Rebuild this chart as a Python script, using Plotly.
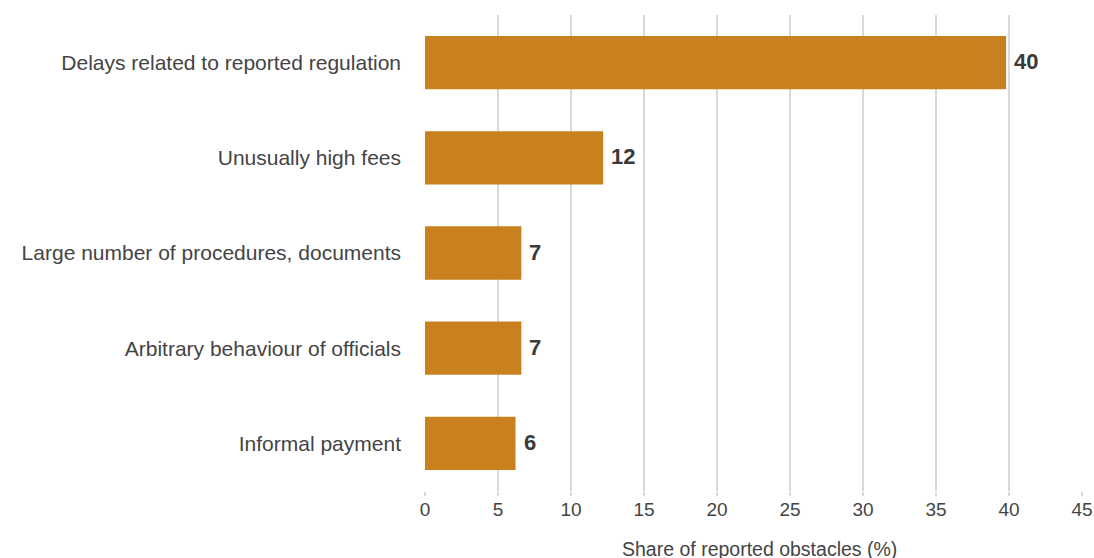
import plotly.graph_objects as go

categories = [
    "Delays related to reported regulation",
    "Unusually high fees",
    "Large number of procedures, documents",
    "Arbitrary behaviour of officials",
    "Informal payment",
]
values = [39.8, 12.2, 6.6, 6.6, 6.2]
value_labels = ["40", "12", "7", "7", "6"]
x_ticks = [0, 5, 10, 15, 20, 25, 30, 35, 40, 45]
x_title = "Share of reported obstacles (%)"

bar_color = "#C8811E"
text_color = "#444444"
grid_color = "#d9d9d9"
font_family = "Liberation Sans, Arial, sans-serif"

fig = go.Figure(
    go.Bar(
        x=values,
        y=categories,
        orientation="h",
        marker=dict(color=bar_color, line=dict(width=0)),
        hoverinfo="skip",
    )
)

for cat, val, lab in zip(categories, values, value_labels):
    fig.add_annotation(
        x=val,
        y=cat,
        xref="x",
        yref="y",
        text=lab,
        showarrow=False,
        xanchor="left",
        yanchor="middle",
        xshift=6,
        yshift=1,
        font=dict(family=font_family, size=22, color="#3a3a3a", weight="bold"),
    )

fig.update_layout(
    width=1094,
    height=558,
    margin=dict(l=425, r=12, t=15, b=67),
    plot_bgcolor="white",
    paper_bgcolor="white",
    bargap=0.44,
    showlegend=False,
    font=dict(family=font_family, size=19, color=text_color),
)

fig.update_xaxes(
    range=[0, 45],
    tickvals=x_ticks,
    ticktext=[str(t) for t in x_ticks],
    showgrid=True,
    gridcolor=grid_color,
    gridwidth=1.5,
    zeroline=False,
    showline=False,
    ticks="outside",
    ticklen=4,
    tickwidth=1.5,
    tickcolor=grid_color,
    ticklabelstandoff=-3,
    tickfont=dict(size=19, color=text_color),
    automargin=False,
)
fig.update_yaxes(
    categoryorder="array",
    categoryarray=categories[::-1],
    showgrid=False,
    zeroline=False,
    showline=False,
    ticks="",
    ticklabelstandoff=23,
    tickfont=dict(size=21, color=text_color),
    automargin=False,
)

fig.add_annotation(
    text=x_title,
    xref="paper",
    yref="paper",
    x=(759 - 425) / (1094 - 425 - 12),
    y=0,
    yshift=-45,
    xanchor="center",
    yanchor="top",
    showarrow=False,
    font=dict(size=19.5, color=text_color, family=font_family),
)

fig.write_html(
    "out.html",
    config={"displayModeBar": False},
    post_script="document.body.style.margin='0';",
)
